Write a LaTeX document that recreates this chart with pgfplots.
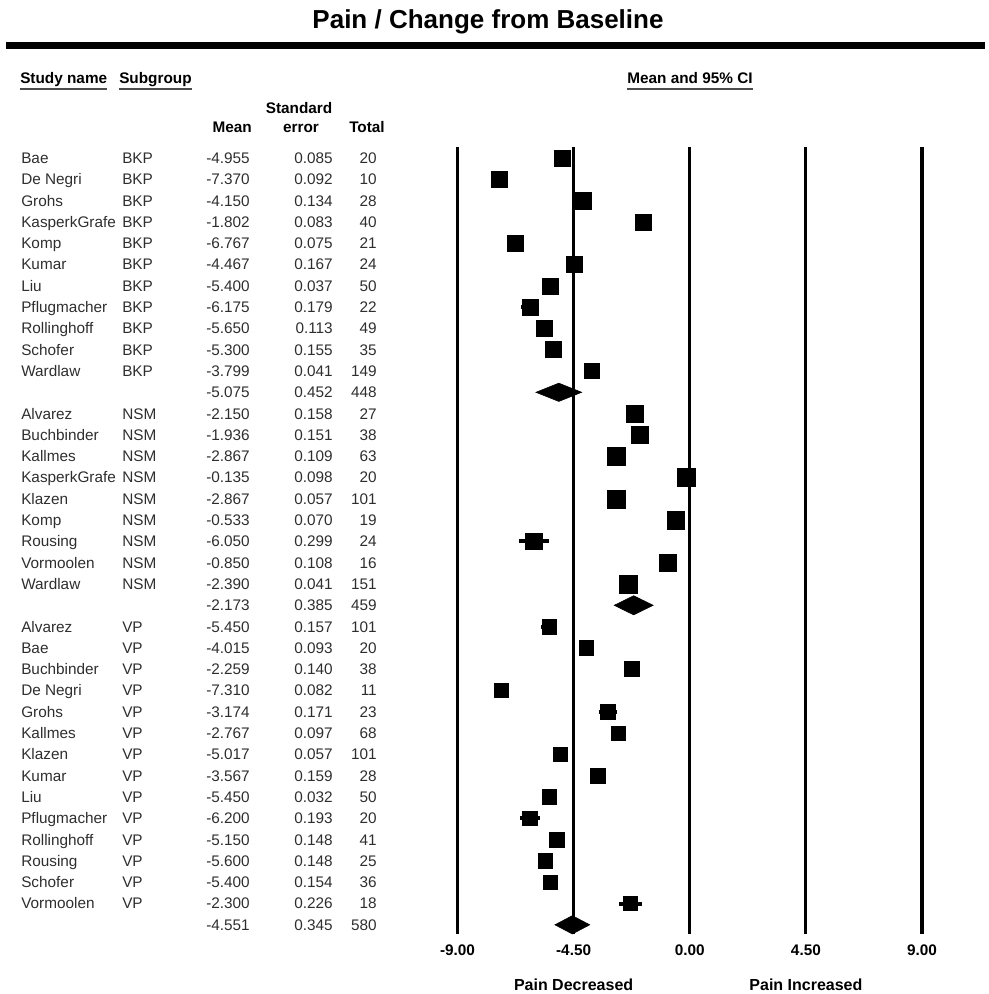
\documentclass[border=0pt]{standalone}
\usepackage{fontspec}
\setmainfont{Liberation Sans}
\usepackage{pgfplots}
\usepackage{pgfplotstable}
\usetikzlibrary{calc}
\pgfplotsset{compat=1.18}

% row, mean, half-width of 95% CI (1.96*SE), half side of square (pt)
\pgfplotstableread{
row mean ci ms
0 -4.955 0.167 6.00
1 -7.370 0.180 6.00
2 -4.150 0.263 6.19
3 -1.802 0.163 6.00
4 -6.767 0.147 6.19
5 -4.467 0.327 6.19
6 -5.400 0.073 6.00
7 -6.175 0.351 6.19
8 -5.650 0.221 6.00
9 -5.300 0.304 6.00
10 -3.799 0.080 5.63
12 -2.150 0.310 6.38
13 -1.936 0.296 6.38
14 -2.867 0.214 6.75
15 -0.135 0.192 6.56
16 -2.867 0.112 6.75
17 -0.533 0.137 6.56
18 -6.050 0.586 6.19
19 -0.850 0.212 6.38
20 -2.390 0.080 6.75
22 -5.450 0.308 5.44
23 -4.015 0.182 5.44
24 -2.259 0.274 5.63
25 -7.310 0.161 5.44
26 -3.174 0.335 5.44
27 -2.767 0.190 5.44
28 -5.017 0.112 5.44
29 -3.567 0.312 5.81
30 -5.450 0.063 5.44
31 -6.200 0.378 5.44
32 -5.150 0.290 5.44
33 -5.600 0.290 5.44
34 -5.400 0.302 5.44
35 -2.300 0.443 5.44
}\studies

\begin{document}
\begin{tikzpicture}
\begin{axis}[at={(0,0)}, anchor=south west, scale only axis,
  width=738.75pt, height=745.5pt,
  xmin=-26.728, xmax=11.441, ymin=-7.418, ymax=39.249,
  y dir=reverse, hide axis, clip=false]
\pgfplotsinvokeforeach{-9,-4.5,0,4.5,9}{
  \addplot[black, line width=2.4pt, forget plot] coordinates {(#1,-0.52) (#1,36.43)};
}
\addplot[scatter, only marks, mark=square*,
  scatter/use mapped color={draw=black, fill=black},
  visualization depends on={\thisrow{ms} \as \msize},
  scatter/@pre marker code/.append style={/tikz/mark size=\msize},
  error bars/.cd, x dir=both, x explicit, error mark=none,
  error bar style={line width=3pt, black}]
  table[x=mean, y=row, x error=ci]{\studies};
% subgroup summaries (diamonds): lower, mean, upper
\addplot[fill=black, draw=black] coordinates {(-5.961,11) (-5.075,10.57) (-4.189,11) (-5.075,11.43)} -- cycle;
\addplot[fill=black, draw=black] coordinates {(-2.928,21) (-2.173,20.55) (-1.418,21) (-2.173,21.45)} -- cycle;
\addplot[fill=black, draw=black] coordinates {(-5.227,36) (-4.551,35.57) (-3.875,36) (-4.551,36.43)} -- cycle;
\end{axis}

\begin{scope}[x=0.75pt, y=-0.75pt, yshift=745.5pt]
\path (0,0) rectangle (985,994);
\node[font=\bfseries\fontsize{19.5}{22}\selectfont] at (488,22) {Pain / Change from Baseline};
\draw[line width=5.25pt] (6,45.5) -- (985,45.5);

\def\hdr{\bfseries\fontsize{11.5}{13}\selectfont}
\node[font=\hdr, anchor=base west, inner sep=0pt] (sn) at (20,83.5) {Study name};
\node[font=\hdr, anchor=base west, inner sep=0pt] (sg) at (119,83.5) {Subgroup};
\node[font=\hdr, anchor=base, inner sep=0pt] (ci) at (690,83.5) {Mean and 95\% CI};
\foreach \nn in {sn,sg,ci}{
  \draw[line width=1.5pt, black!70] ($(\nn.base west)+(0,5.5)$) -- ($(\nn.base east)+(0,5.5)$);
}
\node[font=\hdr, anchor=base, inner sep=0pt] at (299,113.5) {Standard};
\node[font=\hdr, anchor=base, inner sep=0pt] at (301,132.5) {error};
\node[font=\hdr, anchor=base east, inner sep=0pt] at (252,132.5) {Mean};
\node[font=\hdr, anchor=base, inner sep=0pt] at (367,132.5) {Total};

\def\rowf{\fontsize{11.5}{13}\selectfont\color{black!82}}
\foreach \i/\nm/\sg/\m/\s/\n in {
0/Bae/BKP/-4.955/0.085/20,
1/De Negri/BKP/-7.370/0.092/10,
2/Grohs/BKP/-4.150/0.134/28,
3/KasperkGrafe/BKP/-1.802/0.083/40,
4/Komp/BKP/-6.767/0.075/21,
5/Kumar/BKP/-4.467/0.167/24,
6/Liu/BKP/-5.400/0.037/50,
7/Pflugmacher/BKP/-6.175/0.179/22,
8/Rollinghoff/BKP/-5.650/0.113/49,
9/Schofer/BKP/-5.300/0.155/35,
10/Wardlaw/BKP/-3.799/0.041/149,
11/{}/{}/-5.075/0.452/448,
12/Alvarez/NSM/-2.150/0.158/27,
13/Buchbinder/NSM/-1.936/0.151/38,
14/Kallmes/NSM/-2.867/0.109/63,
15/KasperkGrafe/NSM/-0.135/0.098/20,
16/Klazen/NSM/-2.867/0.057/101,
17/Komp/NSM/-0.533/0.070/19,
18/Rousing/NSM/-6.050/0.299/24,
19/Vormoolen/NSM/-0.850/0.108/16,
20/Wardlaw/NSM/-2.390/0.041/151,
21/{}/{}/-2.173/0.385/459,
22/Alvarez/VP/-5.450/0.157/101,
23/Bae/VP/-4.015/0.093/20,
24/Buchbinder/VP/-2.259/0.140/38,
25/De Negri/VP/-7.310/0.082/11,
26/Grohs/VP/-3.174/0.171/23,
27/Kallmes/VP/-2.767/0.097/68,
28/Klazen/VP/-5.017/0.057/101,
29/Kumar/VP/-3.567/0.159/28,
30/Liu/VP/-5.450/0.032/50,
31/Pflugmacher/VP/-6.200/0.193/20,
32/Rollinghoff/VP/-5.150/0.148/41,
33/Rousing/VP/-5.600/0.148/25,
34/Schofer/VP/-5.400/0.154/36,
35/Vormoolen/VP/-2.300/0.226/18,
36/{}/{}/-4.551/0.345/580}{
  \pgfmathsetmacro\yy{158+21.3*\i+5.5}
  \node[font=\rowf, anchor=base west, inner sep=0pt] at (21,\yy) {\nm};
  \node[font=\rowf, anchor=base west, inner sep=0pt] at (122,\yy) {\sg};
  \node[font=\rowf, anchor=base east, inner sep=0pt] at (250,\yy) {\m};
  \node[font=\rowf, anchor=base east, inner sep=0pt] at (333,\yy) {\s};
  \node[font=\rowf, anchor=base east, inner sep=0pt] at (377,\yy) {\n};
}

\def\tkf{\bfseries\fontsize{11.5}{13}\selectfont}
\foreach \px/\lab in {457.5/-9.00, 573.6/-4.50, 689.75/0.00, 805.9/4.50, 922/9.00}{
  \node[font=\tkf, anchor=base, inner sep=0pt] at (\px,955.5) {\lab};
}
\def\blf{\bfseries\fontsize{12}{14}\selectfont}
\node[font=\blf, anchor=base, inner sep=0pt] at (573.6,991) {Pain Decreased};
\node[font=\blf, anchor=base, inner sep=0pt] at (805.9,991) {Pain Increased};
\end{scope}
\end{tikzpicture}
\end{document}
